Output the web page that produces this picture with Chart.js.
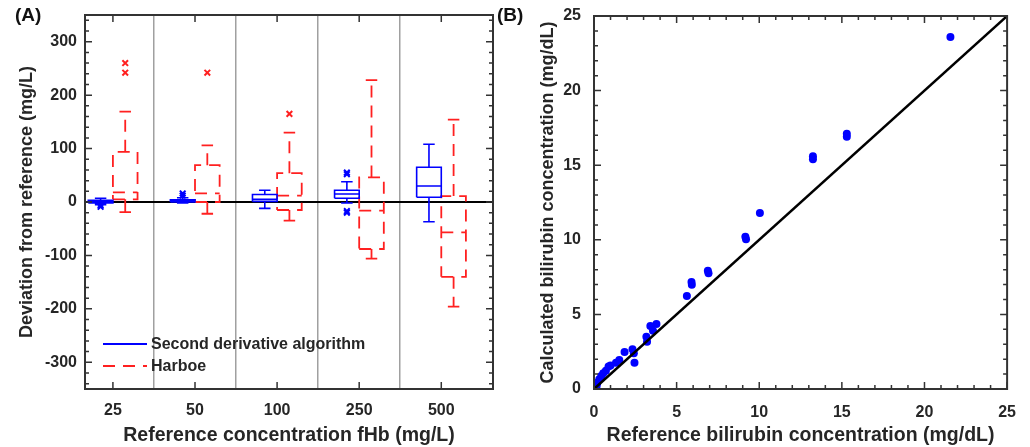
<!DOCTYPE html>
<html>
<head>
<meta charset="utf-8">
<script src="https://cdn.jsdelivr.net/npm/chart.js@4.4.1/dist/chart.umd.min.js"></script>
<style>
    body { margin: 0; background: #fff; }
    #wrap { position: relative; width: 1030px; height: 447px; font-family: "Liberation Sans", Arial, sans-serif; }
    #wrap canvas { position: absolute; top: 0; }
    .panel-tag { position: absolute; top: 4px; font-weight: bold; font-size: 19px; color: #111; }
</style>
</head>
<body>
<div id="wrap">
    <canvas id="boxChart" width="520" height="447" style="left:0"></canvas>
    <canvas id="biliChart" width="510" height="447" style="left:520px"></canvas>
    <div class="panel-tag" style="left:15px">(A)</div>
    <div class="panel-tag" style="left:497px">(B)</div>
</div>
<script>
// ---- Panel A: deviation box plots (mg/L) ----
const categories = ['25', '50', '100', '250', '500'];

// Second derivative algorithm (blue)
const sdLow  = [-5, -2, -12, -2, -37];
const sdQ1   = [-2, 0, 1, 7, 9];
const sdMed  = [1, 2, 5, 15, 30];
const sdQ3   = [3, 4, 14, 22, 65];
const sdHigh = [7, 8, 22, 38, 108];
const sdOutliers = [[-9, -6], [12, 16], [], [55, 52, -17, -20], []];

// Harboe (red)
const hbLow  = [-19, -22, -35, -106, -196];
const hbQ1   = [5, 0, -15, -88, -140];
const hbMed  = [18, 16, 12, -16, -57];
const hbQ3   = [94, 69, 54, 46, 11];
const hbHigh = [169, 106, 130, 228, 154];
const hbOutliers = [[260, 242], [242], [165], [], []];

const devTicks = [-300, -200, -100, 0, 100, 200, 300];

// ---- Panel B: bilirubin scatter (mg/dL) ----
const refBili  = [21.57, 15.3, 15.3, 13.25, 13.25, 10.04, 9.16, 9.2, 6.89, 6.93, 5.9, 5.92, 5.62,
                  3.78, 3.41, 3.57, 3.17, 3.21, 2.33, 2.41, 2.45, 1.85, 1.53, 1.33, 1.0, 0.88,
                  0.72, 0.56, 0.44, 0.32, 0.2, 0.16, 0.04];
const calcBili = [23.6, 17.1, 16.9, 15.6, 15.4, 11.8, 10.2, 10.03, 7.93, 7.75, 7.17, 6.99, 6.23,
                  4.36, 4.22, 3.91, 3.51, 3.17, 2.66, 2.39, 1.76, 2.48, 1.94, 1.76, 1.58, 1.5,
                  1.23, 1.05, 0.87, 0.65, 0.42, 0.2, 0.07];
const identityLine = [0, 25];

const FONT = "'Liberation Sans', Arial, sans-serif";
const TXT = '#262626';
const BLUE = '#0000ff';
const RED = '#ff2020';

// contorno de caja + mediana + bigotes, separados con null
function boxPath(lo, q1, med, q3, hi, offset, half, cap) {
    const pts = [];
    const brk = (x) => pts.push({ x: x, y: null });
    lo.forEach((_, i) => {
        const c = i + 1 + offset;
        pts.push({ x: c - half, y: q1[i] }, { x: c + half, y: q1[i] }, { x: c + half, y: q3[i] },
                 { x: c - half, y: q3[i] }, { x: c - half, y: q1[i] });
        brk(c);
        pts.push({ x: c - half, y: med[i] }, { x: c + half, y: med[i] });
        brk(c);
        pts.push({ x: c, y: q3[i] }, { x: c, y: hi[i] });
        brk(c);
        pts.push({ x: c - cap, y: hi[i] }, { x: c + cap, y: hi[i] });
        brk(c);
        pts.push({ x: c, y: q1[i] }, { x: c, y: lo[i] });
        brk(c);
        pts.push({ x: c - cap, y: lo[i] }, { x: c + cap, y: lo[i] });
        brk(c);
    });
    return pts;
}

function outlierPoints(list, offset) {
    const pts = [];
    list.forEach((vals, i) => vals.forEach(v => pts.push({ x: i + 1 + offset, y: v })));
    return pts;
}

// marco y marcas hacia adentro (estilo MATLAB)
const frameTicks = {
    id: 'frameTicks',
    afterDraw(chart, args, opts) {
        const { ctx, chartArea: a, scales: { x, y } } = chart;
        ctx.save();
        ctx.strokeStyle = '#333';
        ctx.lineWidth = 1.5;
        ctx.beginPath();
        const xMarks = (values, len) => values.forEach(v => {
            const px = x.getPixelForValue(v);
            ctx.moveTo(px, a.bottom); ctx.lineTo(px, a.bottom - len);
            ctx.moveTo(px, a.top); ctx.lineTo(px, a.top + len);
        });
        const yMarks = (values, len) => values.forEach(v => {
            const py = y.getPixelForValue(v);
            ctx.moveTo(a.left, py); ctx.lineTo(a.left + len, py);
            ctx.moveTo(a.right, py); ctx.lineTo(a.right - len, py);
        });
        const steps = (scale, step) => {
            const out = [];
            for (let v = Math.ceil(scale.min / step) * step; v <= scale.max + 1e-9; v += step) out.push(v);
            return out;
        };
        if (opts.xMinor) xMarks(steps(x, opts.xMinor), 4);
        xMarks(x.ticks.map(t => t.value), 7);
        if (opts.yMinor) yMarks(steps(y, opts.yMinor), 4);
        yMarks(y.ticks.map(t => t.value), 7);
        ctx.stroke();
        ctx.lineWidth = 2;
        ctx.strokeRect(a.left, a.top, a.width, a.height);
        ctx.restore();
    }
};

// leyenda dentro del área (abajo a la izquierda)
const insideLegend = {
    id: 'insideLegend',
    afterDatasetsDraw(chart) {
        const { ctx, chartArea: a } = chart;
        const items = chart.data.datasets.filter(d => d.legendText);
        ctx.save();
        ctx.font = 'bold 16px ' + FONT;
        ctx.textBaseline = 'middle';
        items.forEach((d, i) => {
            const yy = a.bottom - 45 + i * 22;
            ctx.beginPath();
            ctx.strokeStyle = d.borderColor;
            ctx.lineWidth = 2;
            ctx.setLineDash(d.borderDash || []);
            ctx.moveTo(a.left + 18, yy);
            ctx.lineTo(a.left + 62, yy);
            ctx.stroke();
            ctx.setLineDash([]);
            ctx.fillStyle = TXT;
            ctx.fillText(d.legendText, a.left + 66, yy + 1);
        });
        ctx.restore();
    }
};

const tickFont = { family: FONT, size: 16, weight: 'bold' };
// lineHeight chico: evita que la etiqueta superior empuje el área hacia abajo
const yTickFont = { family: FONT, size: 16, weight: 'bold', lineHeight: 0.2 };
const xTitleFont = { family: FONT, size: 19.5, weight: 'bold' };
const yTitleFont = { family: FONT, size: 18, weight: 'bold' };

// ---------- Panel A ----------
new Chart(document.getElementById('boxChart'), {
    type: 'scatter',
    data: {
        datasets: [
            {
                legendText: 'Second derivative algorithm',
                data: boxPath(sdLow, sdQ1, sdMed, sdQ3, sdHigh, -0.15, 0.15, 0.07),
                showLine: true, spanGaps: false,
                borderColor: BLUE, borderWidth: 1.6, pointRadius: 0
            },
            {
                legendText: 'Harboe',
                data: boxPath(hbLow, hbQ1, hbMed, hbQ3, hbHigh, 0.15, 0.15, 0.07),
                showLine: true, spanGaps: false,
                borderColor: RED, borderWidth: 1.8, borderDash: [12, 8], pointRadius: 0
            },
            {
                data: outlierPoints(sdOutliers, -0.15),
                pointStyle: 'crossRot', pointRadius: 4, borderWidth: 2, borderColor: BLUE
            },
            {
                data: outlierPoints(hbOutliers, 0.15),
                pointStyle: 'crossRot', pointRadius: 4, borderWidth: 2, borderColor: RED
            }
        ]
    },
    options: {
        responsive: false,
        animation: false,
        devicePixelRatio: 1,
        layout: { padding: { left: 0, right: 27, top: 15, bottom: 0 } },
        plugins: {
            legend: { display: false },
            tooltip: { enabled: false },
            frameTicks: { yMinor: 20 }
        },
        scales: {
            x: {
                type: 'linear',
                min: 0.66, max: 5.63,
                afterBuildTicks: s => { s.ticks = categories.map((_, i) => ({ value: i + 1 })); },
                afterFit: s => { s.height = 58; },
                ticks: {
                    font: tickFont, color: TXT, padding: 12, maxRotation: 0,
                    callback: v => categories[v - 1]
                },
                grid: {
                    offset: true, drawTicks: false, lineWidth: 1.5,
                    color: c => (c.index > 0 && c.index < categories.length) ? '#a0a0a0' : 'rgba(0,0,0,0)'
                },
                border: { display: false },
                title: { display: true, text: 'Reference concentration fHb (mg/L)', font: xTitleFont, color: TXT, padding: 0 }
            },
            y: {
                min: -350, max: 350,
                afterBuildTicks: s => { s.ticks = devTicks.map(v => ({ value: v })); },
                afterFit: s => { s.width = 85; },
                ticks: { font: yTickFont, color: TXT, padding: 8 },
                grid: {
                    drawTicks: false,
                    color: c => c.tick && c.tick.value === 0 ? '#000' : 'rgba(0,0,0,0)',
                    lineWidth: 2
                },
                border: { display: false },
                title: { display: true, text: 'Deviation from reference (mg/L)', font: yTitleFont, color: TXT, padding: { top: 16, bottom: 0 } }
            }
        }
    },
    plugins: [frameTicks, insideLegend]
});

// ---------- Panel B ----------
new Chart(document.getElementById('biliChart'), {
    type: 'scatter',
    data: {
        datasets: [
            {
                data: identityLine.map(v => ({ x: v, y: v })),
                showLine: true, borderColor: '#000', borderWidth: 2.5, pointRadius: 0
            },
            {
                data: refBili.map((v, i) => ({ x: v, y: calcBili[i] })),
                pointRadius: 4, backgroundColor: BLUE, borderColor: BLUE, borderWidth: 0
            }
        ]
    },
    options: {
        responsive: false,
        animation: false,
        devicePixelRatio: 1,
        layout: { padding: { left: 0, right: 22, top: 16, bottom: 0 } },
        plugins: {
            legend: { display: false },
            tooltip: { enabled: false },
            frameTicks: { xMinor: 1, yMinor: 1 }
        },
        scales: {
            x: {
                min: 0, max: 25,
                afterFit: s => { s.height = 58; },
                ticks: { stepSize: 5, font: tickFont, color: TXT, padding: 14, maxRotation: 0 },
                grid: { display: false, drawTicks: false },
                border: { display: false },
                title: { display: true, text: 'Reference bilirubin concentration (mg/dL)', font: xTitleFont, color: TXT, padding: 0 }
            },
            y: {
                min: 0, max: 25,
                afterFit: s => { s.width = 74; },
                ticks: { stepSize: 5, font: yTickFont, color: TXT, padding: 13 },
                grid: { display: false, drawTicks: false },
                border: { display: false },
                title: { display: true, text: 'Calculated bilirubin concentration (mg/dL)', font: yTitleFont, color: TXT, padding: { top: 17, bottom: 0 } }
            }
        }
    },
    plugins: [frameTicks]
});
</script>
</body>
</html>
